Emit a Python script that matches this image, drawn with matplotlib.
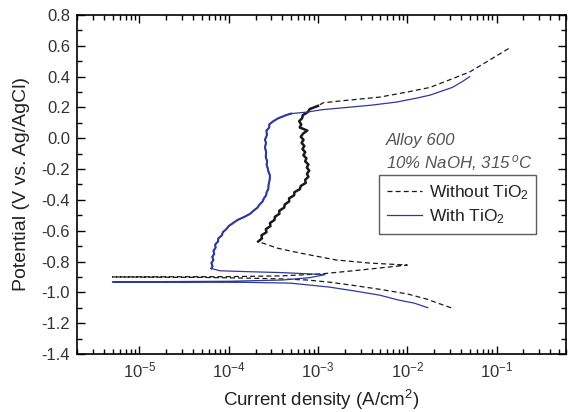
import numpy as np
import matplotlib
matplotlib.use('Agg')
import matplotlib.pyplot as plt
from matplotlib.ticker import MultipleLocator, LogLocator

plt.rcParams['font.family'] = ['Liberation Sans', 'DejaVu Sans']
plt.rcParams['mathtext.fontset'] = 'custom'
plt.rcParams['mathtext.rm'] = 'Liberation Sans'
plt.rcParams['mathtext.it'] = 'Liberation Sans:italic'

# ---- Without TiO2 (A/cm2, V) ----
wo_cath_i = [3.1e-2, 2.2e-2, 1.66e-2, 1.0e-2, 4.9e-3, 2.5e-3, 1.35e-3, 7.6e-4, 4e-4, 1.7e-4, 5e-5, 5e-6]
wo_cath_E = [-1.10, -1.07, -1.044, -1.01, -0.98, -0.955, -0.934, -0.92, -0.913, -0.908, -0.903, -0.90]
wo_act_i = [5e-6, 1e-4, 4e-4, 1.1e-3, 3e-3, 1e-2, 3.8e-3, 1.6e-3, 6.3e-4, 3.5e-4, 2.14e-4]
wo_act_E = [-0.90, -0.898, -0.893, -0.88, -0.855, -0.823, -0.81, -0.79, -0.745, -0.713, -0.67]
wo_pass_i = [2.14e-4, 2.36e-4, 2.33e-4, 2.65e-4, 2.61e-4, 2.94e-4, 2.90e-4, 3.26e-4, 3.29e-4, 3.70e-4,
             3.69e-4, 4.19e-4, 4.24e-4, 4.76e-4, 4.75e-4, 5.41e-4, 5.45e-4, 6.28e-4, 6.41e-4, 7.29e-4,
             7.19e-4, 7.82e-4, 7.53e-4, 7.99e-4, 7.50e-4, 7.82e-4, 7.19e-4, 7.42e-4, 6.87e-4, 7.20e-4,
             6.70e-4, 7.04e-4, 6.56e-4, 6.89e-4, 6.42e-4, 6.81e-4, 7.6e-4, 6.25e-4, 6.50e-4, 6.16e-4,
             6.64e-4, 6.77e-4, 7.70e-4, 8.1e-4, 1.0e-3]
wo_pass_E = [-0.67, -0.65, -0.63, -0.61, -0.59, -0.57, -0.55, -0.53, -0.51, -0.49,
             -0.47, -0.45, -0.43, -0.41, -0.39, -0.37, -0.35, -0.33, -0.31, -0.29,
             -0.27, -0.25, -0.23, -0.21, -0.19, -0.17, -0.15, -0.13, -0.11, -0.09,
             -0.07, -0.05, -0.03, -0.01, 0.01, 0.03, 0.05, 0.07, 0.09, 0.11,
             0.13, 0.15, 0.17, 0.19, 0.21]
wo_trans_i = [1.0e-3, 1.14e-3, 2.0e-3, 4.9e-3, 1.0e-2, 1.8e-2, 3.0e-2, 5.0e-2, 8.5e-2, 1.4e-1]
wo_trans_E = [0.21, 0.23, 0.245, 0.267, 0.30, 0.33, 0.38, 0.43, 0.51, 0.586]

# ---- With TiO2 ----
w_cath_i = [1.7e-2, 1.2e-2, 8e-3, 4.9e-3, 2.5e-3, 1.35e-3, 4.9e-4, 1.5e-4, 5e-6]
w_cath_E = [-1.10, -1.07, -1.05, -1.018, -0.99, -0.966, -0.94, -0.935, -0.934]
w_act_i = [5e-6, 1e-4, 4e-4, 8e-4, 1.2e-3, 4e-4, 1.5e-4, 8e-5, 6.4e-5]
w_act_E = [-0.932, -0.928, -0.92, -0.905, -0.885, -0.872, -0.865, -0.86, -0.845]
w_pass_i = [6.4e-5, 6.6e-5, 6.4e-5, 6.75e-5, 6.55e-5, 6.9e-5, 6.75e-5, 7.15e-5, 7.05e-5, 7.6e-5,
            7.65e-5, 8.4e-5, 8.6e-5, 9.4e-5, 1.0e-4, 1.12e-4, 1.26e-4, 1.5e-4, 1.74e-4, 1.9e-4,
            2.1e-4, 2.22e-4, 2.4e-4, 2.48e-4, 2.63e-4, 2.66e-4, 2.78e-4, 2.8e-4, 2.88e-4, 2.9e-4,
            2.8e-4, 2.75e-4, 2.66e-4, 2.7e-4, 2.6e-4, 2.63e-4, 2.55e-4, 2.62e-4, 2.55e-4, 2.68e-4,
            2.65e-4, 2.85e-4, 2.85e-4, 3.15e-4, 3.6e-4, 4.4e-4, 5.0e-4]
w_pass_E = [-0.845, -0.83, -0.81, -0.79, -0.77, -0.75, -0.73, -0.71, -0.69, -0.67,
            -0.65, -0.63, -0.61, -0.59, -0.57, -0.55, -0.53, -0.51, -0.49, -0.47,
            -0.45, -0.43, -0.41, -0.39, -0.37, -0.35, -0.33, -0.30, -0.27, -0.24,
            -0.22, -0.20, -0.17, -0.15, -0.12, -0.09, -0.06, -0.03, -0.01, 0.02,
            0.05, 0.07, 0.09, 0.11, 0.13, 0.15, 0.16]
w_trans_i = [5.0e-4, 7.6e-4, 1.1e-3, 2.1e-3, 4.0e-3, 7.6e-3, 1.26e-2, 1.8e-2, 3.2e-2, 4.2e-2, 5.0e-2]
w_trans_E = [0.16, 0.17, 0.185, 0.20, 0.215, 0.235, 0.26, 0.28, 0.33, 0.37, 0.40]

black = '#1a1a1a'
blue = '#2d3a9c'

fig = plt.figure(figsize=(5.69, 4.12), dpi=100)
ax = fig.add_axes([0.1353, 0.1408, 0.8594, 0.8228])

wo_i = wo_cath_i + wo_act_i + wo_pass_i + wo_trans_i
wo_E = wo_cath_E + wo_act_E + wo_pass_E + wo_trans_E
ax.plot(wo_i, wo_E, ls=(0, (4, 2.5)), lw=0.9, color=black, label='Without TiO$_2$')
ax.plot(wo_pass_i, wo_pass_E, ls='-', lw=1.8, color=black)  # noisy passive part

w_i = w_cath_i + w_act_i + w_pass_i + w_trans_i
w_E = w_cath_E + w_act_E + w_pass_E + w_trans_E
ax.plot(w_i, w_E, ls='-', lw=0.9, color=blue, label='With TiO$_2$')
ax.plot(w_pass_i, w_pass_E, ls='-', lw=1.5, color=blue)

ax.set_xscale('log')
ax.set_xlim(2e-6, 0.6)
ax.set_ylim(-1.4, 0.8)
ax.yaxis.set_major_locator(MultipleLocator(0.2))
ax.yaxis.set_minor_locator(MultipleLocator(0.1))
ax.xaxis.set_major_locator(LogLocator(base=10, numticks=12))
ax.xaxis.set_minor_locator(LogLocator(base=10, subs=np.arange(2, 10), numticks=12))
ax.set_yticklabels(['%.1f' % v for v in ax.get_yticks()])

ax.tick_params(which='both', direction='in', top=True, right=True, labelsize=12,
               labelcolor='#333333', width=1.0)
ax.tick_params(which='major', length=6, pad=5)
ax.tick_params(which='minor', length=3.5)
for s in ax.spines.values():
    s.set_linewidth(1.2)

ax.set_xlabel('Current density (A/cm$^2$)', fontsize=13.5, color='#222222', labelpad=5)
ax.set_ylabel('Potential (V vs. Ag/AgCl)', fontsize=14, color='#222222', labelpad=8)

ax.text(0.632, 0.631, 'Alloy 600', transform=ax.transAxes, fontsize=12.2,
        style='italic', color='#555555', va='center', ha='left')
ax.text(0.632, 0.563, '10% NaOH, 315$\\,^{o}$C', transform=ax.transAxes, fontsize=12.2,
        style='italic', color='#555555', va='center', ha='left')

leg = ax.legend(loc='upper left', bbox_to_anchor=(0.618, 0.527), fontsize=12.5,
                frameon=True, fancybox=False, edgecolor='#333333', handlelength=2.0,
                handletextpad=0.4, borderpad=0.45, labelspacing=0.3, borderaxespad=0)
leg.get_frame().set_linewidth(1.0)
for t in leg.get_texts():
    t.set_color('#222222')

plt.savefig('out.png', dpi=100)
